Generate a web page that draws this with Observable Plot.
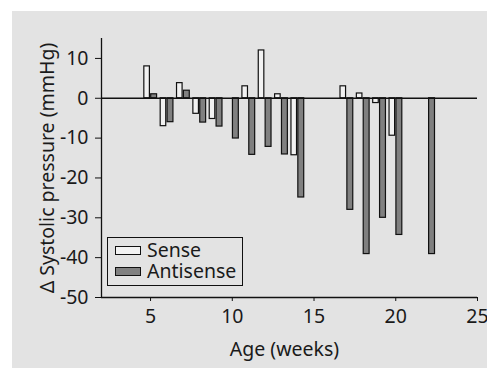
<!DOCTYPE html>
<html>
<head>
<meta charset="utf-8">
<script src="https://cdn.jsdelivr.net/npm/d3@7"></script>
<script src="https://cdn.jsdelivr.net/npm/@observablehq/plot@0.6"></script>
<style>
  html, body { margin: 0; padding: 0; background: #ffffff; }
  #wrap { position: relative; width: 487px; height: 368px; background: #ffffff; overflow: hidden; }
  #chart { position: absolute; left: 12px; top: 11px; }
  #legend { position: absolute; left: 107px; top: 237px; width: 136px; height: 49px; box-sizing: border-box;
            border: 1.3px solid #111; font-family: "Noto Sans", sans-serif; font-size: 19.5px; color: #1a1a1a; }
  .sw { position: absolute; left: 7px; width: 26px; height: 9px; box-sizing: border-box; border: 1.3px solid #111; }
  .lb { position: absolute; left: 39px; line-height: 19px; height: 19px; white-space: nowrap; }
</style>
</head>
<body>
<div id="wrap"><div id="chart"></div><div id="legend"></div></div>
<script>
// Data
const seriesNames = ["Sense", "Antisense"];
const seriesColors = ["#f2f2f2", "#808080"];
const senseAges = [5, 6, 7, 8, 9, 11, 12, 13, 14, 17, 18, 19, 20];
const senseValues = [8, -7, 3.8, -3.9, -5.2, 3, 12, 1, -14.3, 3, 1.2, -1.2, -9.4];
const antisenseAges = [5, 6, 7, 8, 9, 10, 11, 12, 13, 14, 17, 18, 19, 20, 22];
const antisenseValues = [1, -6, 1.9, -6.1, -7.1, -10.1, -14.2, -12.2, -14.1, -24.9, -28, -39.1, -30, -34.3, -39.1];
const xTicks = [5, 10, 15, 20, 25];
const yTicks = [10, 0, -10, -20, -30, -40, -50];
const xTitle = "Age (weeks)";
const yTitle = "Δ Systolic pressure (mmHg)";

const senseData = senseAges.map((a, i) => ({age: a, value: senseValues[i]}));
const antiData = antisenseAges.map((a, i) => ({age: a, value: antisenseValues[i]}));

const font = "Noto Sans";
const chart = Plot.plot({
  width: 475,
  height: 357,
  marginLeft: 89,
  marginRight: 10,
  marginTop: 27,
  marginBottom: 71,
  style: {background: "#e3e3e3", fontFamily: font, fontSize: "19.5px", color: "#1a1a1a", overflow: "visible"},
  x: {domain: [2, 25]},
  y: {domain: [-50, 15]},
  marks: [
    Plot.rectY(senseData, {x1: d => d.age - 0.38, x2: d => d.age - 0.04, y1: 0, y2: "value",
      fill: seriesColors[0], stroke: "#111", strokeWidth: 1.2}),
    Plot.rectY(antiData, {x1: d => d.age + 0.04, x2: d => d.age + 0.40, y1: 0, y2: "value",
      fill: seriesColors[1], stroke: "#111", strokeWidth: 1.2}),
    Plot.ruleY([0], {stroke: "#111", strokeWidth: 1.3}),
    Plot.ruleX([2], {stroke: "#111", strokeWidth: 1.3}),
    Plot.ruleY([-50], {stroke: "#111", strokeWidth: 1.3}),
    Plot.axisX({ticks: xTicks, tickFormat: d => String(d), tickSize: 4, tickPadding: 8, label: null, stroke: "#111", fontSize: "19.5px"}),
    Plot.axisY({ticks: yTicks, tickFormat: d => String(d), tickSize: 6, tickPadding: 7, label: null, stroke: "#111", fontSize: "19.5px"}),
    Plot.text([xTitle], {frameAnchor: "bottom", dy: 52, dx: -5, lineAnchor: "middle", textAnchor: "middle", fontSize: 19.5, fill: "#1a1a1a"}),
    Plot.text([yTitle], {frameAnchor: "left", dx: -54, rotate: -90, lineAnchor: "middle", textAnchor: "middle", fontSize: 19.5, fill: "#1a1a1a"})
  ]
});
document.getElementById("chart").appendChild(chart);

// Legend
const legend = document.getElementById("legend");
seriesNames.forEach((name, i) => {
  const sw = document.createElement("div");
  sw.className = "sw";
  sw.style.top = (8 + i * 21) + "px";
  sw.style.background = seriesColors[i];
  legend.appendChild(sw);
  const lb = document.createElement("div");
  lb.className = "lb";
  lb.style.top = (2 + i * 21) + "px";
  lb.textContent = name;
  legend.appendChild(lb);
});
</script>
</body>
</html>
